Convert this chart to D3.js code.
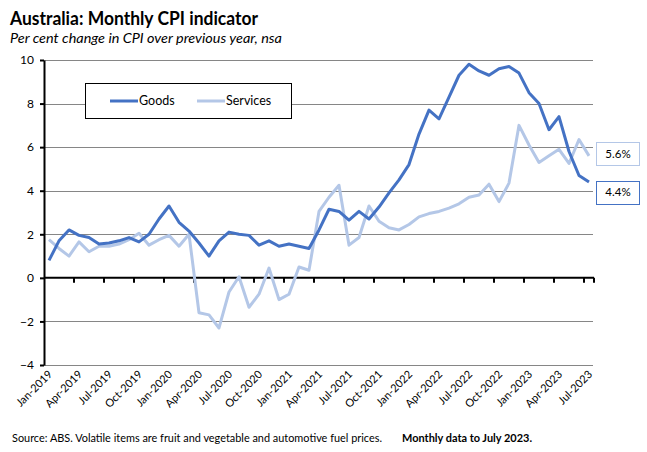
<!DOCTYPE html>
<html><head><meta charset="utf-8">
<script src="https://cdn.jsdelivr.net/npm/d3@7"></script>
<style>
body{margin:0;background:#fff}
svg{display:block}
text{font-family:Lato,"Open Sans",sans-serif;fill:#000}
</style>
</head><body>
<svg id="chart" width="647" height="452"></svg>
<script>
const months = ["Jan-2019","Feb-2019","Mar-2019","Apr-2019","May-2019","Jun-2019","Jul-2019","Aug-2019","Sep-2019","Oct-2019","Nov-2019","Dec-2019",
"Jan-2020","Feb-2020","Mar-2020","Apr-2020","May-2020","Jun-2020","Jul-2020","Aug-2020","Sep-2020","Oct-2020","Nov-2020","Dec-2020",
"Jan-2021","Feb-2021","Mar-2021","Apr-2021","May-2021","Jun-2021","Jul-2021","Aug-2021","Sep-2021","Oct-2021","Nov-2021","Dec-2021",
"Jan-2022","Feb-2022","Mar-2022","Apr-2022","May-2022","Jun-2022","Jul-2022","Aug-2022","Sep-2022","Oct-2022","Nov-2022","Dec-2022",
"Jan-2023","Feb-2023","Mar-2023","Apr-2023","May-2023","Jun-2023","Jul-2023"];

const goods = [0.8,1.7,2.2,1.95,1.85,1.55,1.6,1.7,1.85,1.65,2.0,2.7,
3.3,2.55,2.15,1.6,1.0,1.7,2.1,2.0,1.95,1.5,1.7,1.45,
1.55,1.45,1.35,2.2,3.15,3.05,2.65,3.05,2.7,3.25,3.9,4.5,
5.2,6.6,7.7,7.3,8.3,9.3,9.8,9.5,9.3,9.6,9.7,9.4,
8.5,8.0,6.8,7.4,5.8,4.7,4.4];

const services = [1.75,1.35,1.0,1.65,1.2,1.45,1.45,1.55,1.75,2.05,1.5,1.75,
1.95,1.45,2.0,-1.6,-1.7,-2.3,-0.65,0.05,-1.35,-0.75,0.45,-1.0,
-0.75,0.5,0.35,3.05,3.7,4.25,1.5,1.85,3.3,2.6,2.3,2.2,
2.45,2.8,2.95,3.05,3.2,3.4,3.7,3.8,4.3,3.5,4.35,7.0,
6.1,5.3,5.6,5.9,5.25,6.35,5.6];

const tickLabels = ["Jan-2019","Apr-2019","Jul-2019","Oct-2019","Jan-2020","Apr-2020","Jul-2020","Oct-2020",
"Jan-2021","Apr-2021","Jul-2021","Oct-2021","Jan-2022","Apr-2022","Jul-2022","Oct-2022","Jan-2023","Apr-2023","Jul-2023"];

const yTicks = [-4,-2,0,2,4,6,8,10];
const seriesNames = ["Goods","Services"];
const endLabels = ["4.4%","5.6%"];

const colGoods = "#4472C4", colServ = "#B4C7E7";

const svg = d3.select("#chart");
const L = 44, R = 594;
const x = d3.scaleBand().domain(months).range([L, R]).paddingInner(0).paddingOuter(0);
const y = d3.scaleLinear().domain([-4, 10]).range([365, 60]);
const cx = m => x(m) + x.bandwidth() / 2;

// Title
svg.append("text").attr("x", 10).attr("y", 25).attr("font-size", 18).attr("font-weight", "bold")
  .attr("textLength", 248).attr("lengthAdjust", "spacingAndGlyphs").text("Australia: Monthly CPI indicator");
svg.append("text").attr("x", 10).attr("y", 43).attr("font-size", 14).attr("font-style", "italic")
  .attr("textLength", 272).attr("lengthAdjust", "spacingAndGlyphs").text("Per cent change in CPI over previous year, nsa");

// Gridlines
svg.append("g").selectAll("line").data(yTicks.filter(d => d !== 0)).join("line")
  .attr("x1", L).attr("x2", R - 1).attr("y1", d => Math.round(y(d)) + 0.5).attr("y2", d => Math.round(y(d)) + 0.5)
  .attr("stroke", "#868686").attr("stroke-width", 1);

// Y axis
const yAxis = svg.append("g").attr("transform", `translate(${L},0)`)
  .call(d3.axisLeft(y).tickValues(yTicks).tickSize(4).tickSizeOuter(0).tickPadding(6));
yAxis.select(".domain").attr("stroke", "#000").attr("stroke-width", 2);
yAxis.selectAll(".tick line").attr("stroke", "#000").attr("stroke-width", 2);
yAxis.selectAll(".tick text").attr("font-size", 12).attr("font-family", "Lato, sans-serif").attr("fill", "#000");

// Zero line + x ticks
const y0 = y(0);
svg.append("line").attr("x1", L).attr("x2", R).attr("y1", y0).attr("y2", y0)
  .attr("stroke", "#000").attr("stroke-width", 2);
svg.append("g").selectAll("line").data(tickLabels.slice(1)).join("line")
  .attr("x1", d => x(d)).attr("x2", d => x(d)).attr("y1", y0).attr("y2", y0 + 5)
  .attr("stroke", "#000").attr("stroke-width", 2);
svg.append("line").attr("x1", R).attr("x2", R).attr("y1", y0).attr("y2", y0 + 5)
  .attr("stroke", "#000").attr("stroke-width", 2);

// X labels
svg.append("g").selectAll("text").data(tickLabels).join("text")
  .attr("transform", d => `translate(${cx(d) + 4},${375}) rotate(-45)`)
  .attr("text-anchor", "end").attr("font-size", 11).text(d => d);

// Lines
const line = d3.line().x((d, i) => cx(months[i])).y(d => y(d));
svg.append("path").datum(services).attr("d", line).attr("fill", "none")
  .attr("stroke", colServ).attr("stroke-width", 3).attr("stroke-linejoin", "round");
svg.append("path").datum(goods).attr("d", line).attr("fill", "none")
  .attr("stroke", colGoods).attr("stroke-width", 3).attr("stroke-linejoin", "round");

// Legend
const lg = svg.append("g");
lg.append("rect").attr("x", 85.5).attr("y", 83.5).attr("width", 206).attr("height", 35)
  .attr("fill", "#fff").attr("stroke", "#000").attr("stroke-width", 1);
[[colGoods, 110, seriesNames[0]], [colServ, 197, seriesNames[1]]].forEach(([c, lx, t]) => {
  lg.append("line").attr("x1", lx).attr("x2", lx + 28).attr("y1", 101).attr("y2", 101)
    .attr("stroke", c).attr("stroke-width", 3);
  lg.append("text").attr("x", lx + 29).attr("y", 105).attr("font-size", 12.5).text(t);
});

// End labels
const lastG = goods[goods.length - 1], lastS = services[services.length - 1];
[[colServ, y(lastS) - 2, endLabels[1]], [colGoods, y(lastG) + 10, endLabels[0]]].forEach(([c, cy, t]) => {
  svg.append("rect").attr("x", 596.5).attr("y", Math.round(cy - 11.5) + 0.5).attr("width", 43).attr("height", 23)
    .attr("fill", "#fff").attr("stroke", c).attr("stroke-width", 1);
  svg.append("text").attr("x", 618).attr("y", cy + 4).attr("text-anchor", "middle").attr("font-size", 11.5).text(t);
});

// Source
svg.append("text").attr("x", 12).attr("y", 442).attr("font-size", 11.5)
  .attr("textLength", 370).attr("lengthAdjust", "spacingAndGlyphs")
  .text("Source: ABS. Volatile items are fruit and vegetable and automotive fuel prices.");
svg.append("text").attr("x", 402).attr("y", 442).attr("font-size", 11.5).attr("font-weight", "bold")
  .attr("textLength", 130).attr("lengthAdjust", "spacingAndGlyphs")
  .text("Monthly data to July 2023.");
</script>
</body></html>
